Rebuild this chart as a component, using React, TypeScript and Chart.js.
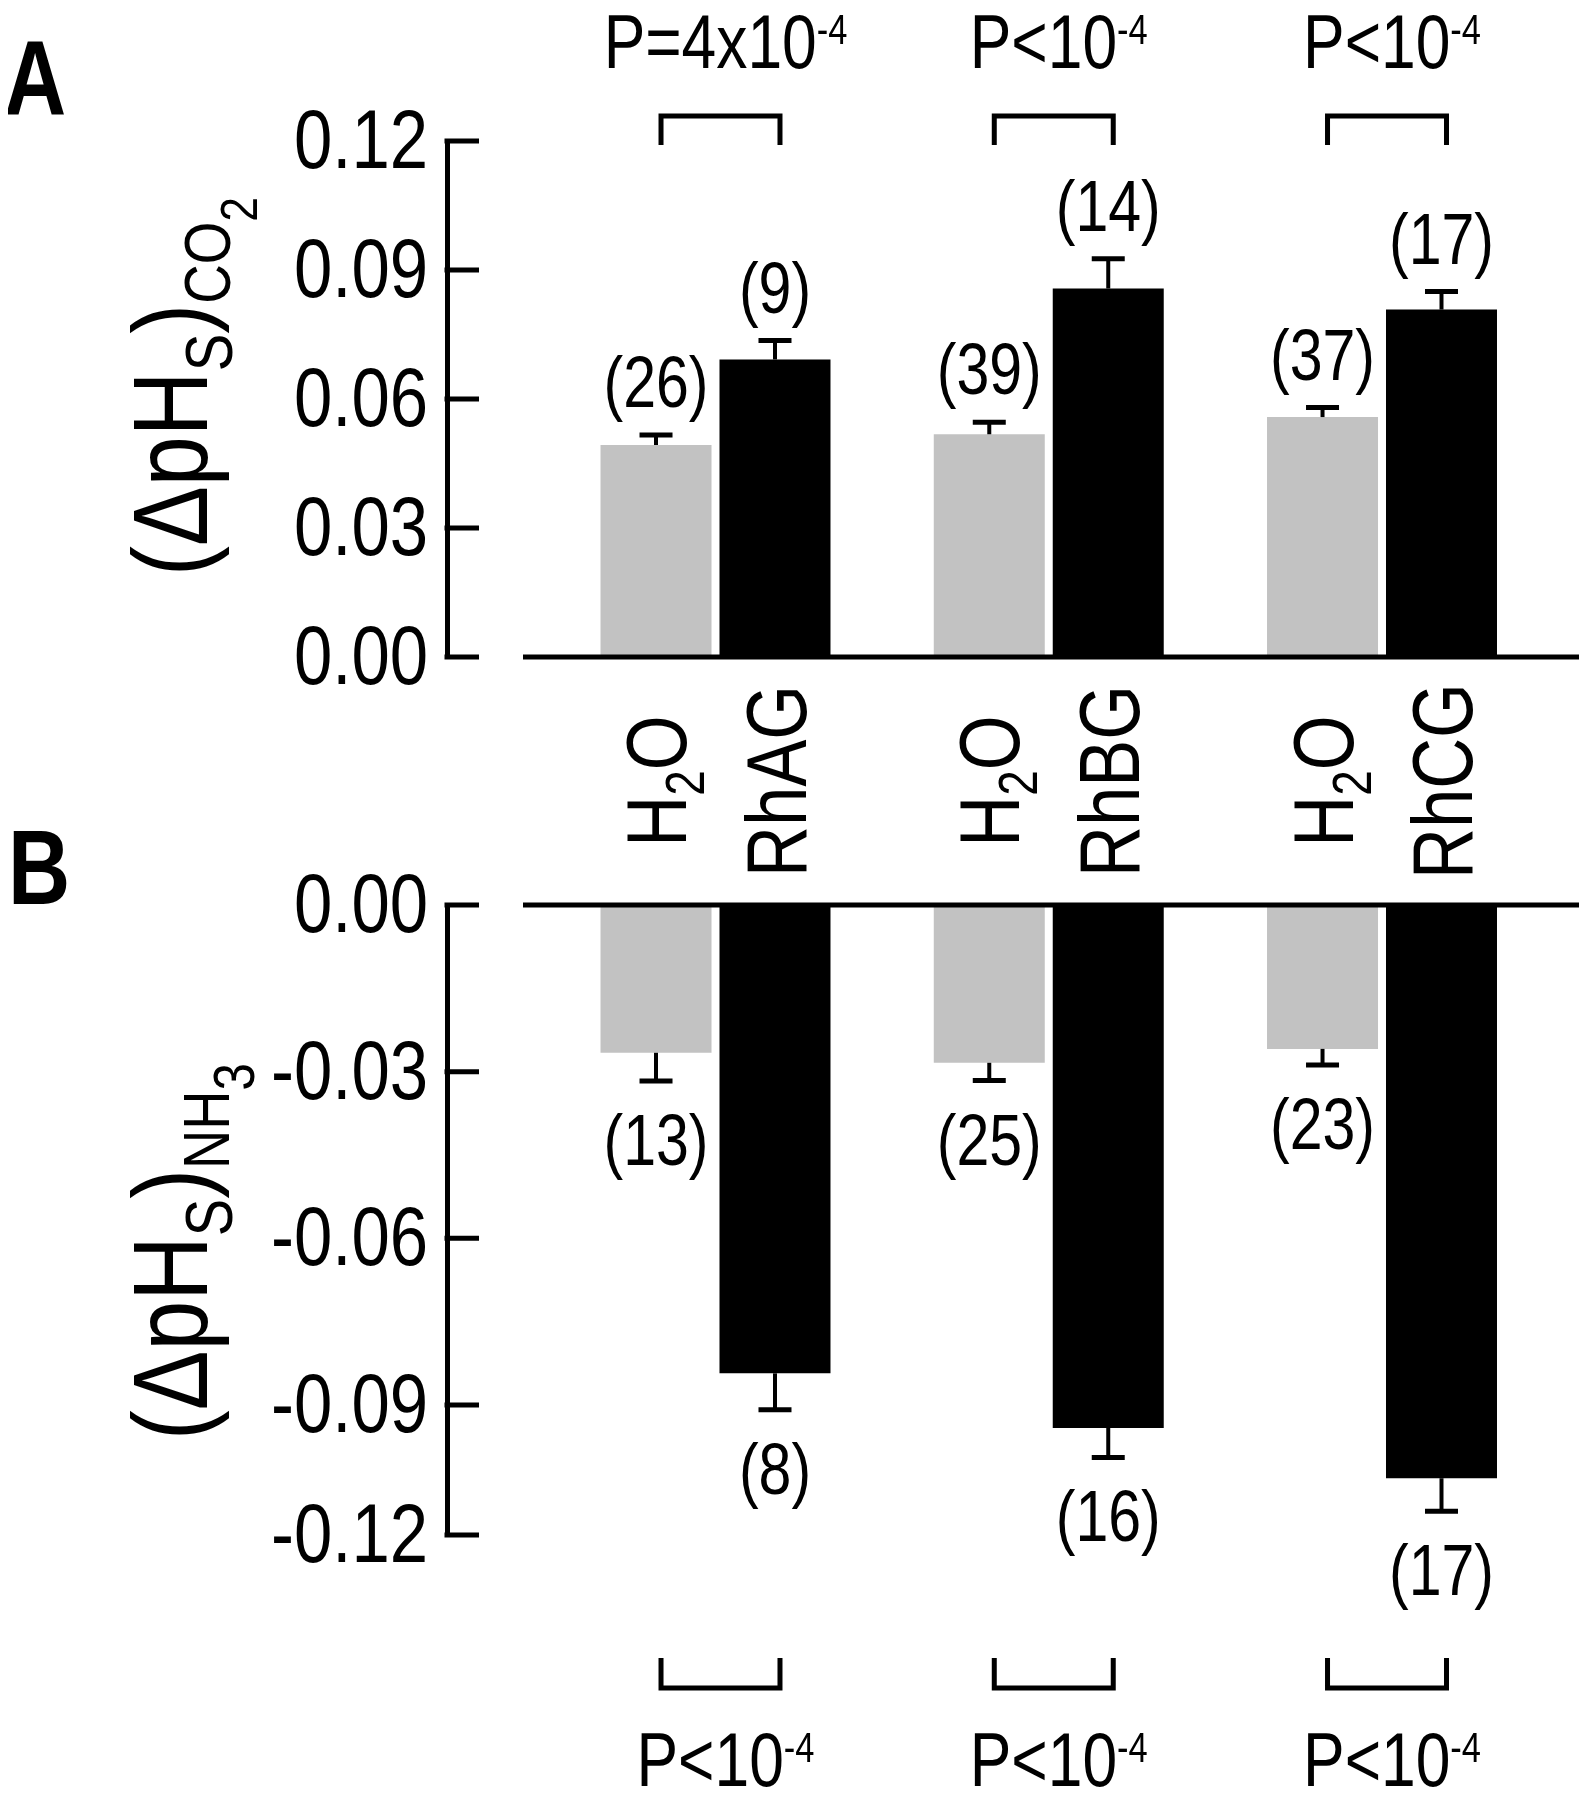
import React, { useEffect, useRef } from 'react';
import { Chart, registerables, LinearScale } from 'chart.js';

// ---------------- data ----------------
const CATEGORIES = ['RhAG', 'RhBG', 'RhCG'];
const CONTROL_LABEL = 'H2O';

const CO2_TICKS = [0, 0.03, 0.06, 0.09, 0.12];
const CO2_H2O = [0.0493, 0.0518, 0.0558];
const CO2_H2O_SEM = [0.0023, 0.0028, 0.0022];
const CO2_H2O_N = [26, 39, 37];
const CO2_RH = [0.0692, 0.0857, 0.0808];
const CO2_RH_SEM = [0.0044, 0.0069, 0.0042];
const CO2_RH_N = [9, 14, 17];
const CO2_P = ['P=4x10', 'P<10', 'P<10'];
const CO2_P_EXP = ['-4', '-4', '-4'];

const NH3_TICKS = [0, -0.03, -0.06, -0.09, -0.12];
const NH3_H2O = [-0.0266, -0.0284, -0.0259];
const NH3_H2O_SEM = [0.0051, 0.0032, 0.0029];
const NH3_H2O_N = [13, 25, 23];
const NH3_RH = [-0.0843, -0.0953, -0.1069];
const NH3_RH_SEM = [0.0068, 0.0068, 0.0076];
const NH3_RH_N = [8, 16, 17];
const NH3_P = ['P<10', 'P<10', 'P<10'];
const NH3_P_EXP = ['-4', '-4', '-4'];

// ---------------- style ----------------
const FONT = '"Liberation Sans", Arial, sans-serif';
const NARROW = 0.82; // horizontal squeeze to imitate a narrow face
const GRAY = '#c2c2c2';
const BLACK = '#000000';
const PAGE_W = 1587;
const PAGE_H = 1800;
const AXIS_X = 447;
const RIGHT_PAD = 7;
const X_MIN = 0.1943;
const X_MAX = 3.5941;
const CAT_PCT = 0.714;
const BAR_PCT = 0.933;
const TICK_FONT = 84;
const N_FONT = 72;
const P_FONT = 76;
const P_EXP_FONT = 42;
const CAT_FONT = 86;
const TICK_LEN = 32;
const CAP_W = 33;
const BASELINE_GAP = 76;
const TITLE_BASE_X = 207;

// the lower axis of the original figure is compressed below -0.09
const NH3_BREAK = -0.09;
const NH3_COMPRESS = 0.78;

class BrokenLinearScale extends LinearScale {
  static id = 'brokenLinear';
  static defaults = {};
  warp(v: number) {
    return v < NH3_BREAK ? NH3_BREAK + (v - NH3_BREAK) * NH3_COMPRESS : v;
  }
  unwarp(w: number) {
    return w < NH3_BREAK ? NH3_BREAK + (w - NH3_BREAK) / NH3_COMPRESS : w;
  }
  configure() {
    super.configure();
    (this as any)._startValue = this.warp((this as any).min);
    (this as any)._endValue = this.warp((this as any).max);
    (this as any)._valueRange = (this as any)._endValue - (this as any)._startValue;
  }
  getPixelForValue(value: any) {
    if (value === null || value === undefined || isNaN(value)) return NaN;
    return super.getPixelForValue(this.warp(value));
  }
  getValueForPixel(pixel: number) {
    return this.unwarp(super.getValueForPixel(pixel) as number);
  }
}

Chart.register(...registerables, BrokenLinearScale as any);

type Seg = { text: string; size: number; dy: number; weight?: string };
const seg = (text: string, size: number, dy = 0, weight?: string): Seg => ({ text, size, dy, weight });

function setFont(ctx: CanvasRenderingContext2D, s: Seg) {
  ctx.font = `${s.weight || 'normal'} ${s.size}px ${FONT}`;
}

function segWidths(ctx: CanvasRenderingContext2D, segs: Seg[]) {
  return segs.map((s) => {
    setFont(ctx, s);
    return ctx.measureText(s.text).width;
  });
}

// draws segments horizontally, squeezed; align: 'left' | 'center' | 'right'
function drawText(
  ctx: CanvasRenderingContext2D,
  segs: Seg[],
  x: number,
  y: number,
  align: 'left' | 'center' | 'right' = 'left',
  baseline: CanvasTextBaseline = 'alphabetic'
) {
  const widths = segWidths(ctx, segs);
  const total = widths.reduce((a, b) => a + b, 0);
  let u = align === 'left' ? 0 : align === 'center' ? -total / 2 : -total;
  ctx.save();
  ctx.translate(x, y);
  ctx.scale(NARROW, 1);
  ctx.textAlign = 'left';
  ctx.textBaseline = baseline;
  segs.forEach((s, i) => {
    setFont(ctx, s);
    ctx.fillText(s.text, u, s.dy);
    u += widths[i];
  });
  ctx.restore();
}

function drawRotated(ctx: CanvasRenderingContext2D, segs: Seg[], baseX: number, centerY: number, length?: number) {
  const widths = segWidths(ctx, segs);
  const total = widths.reduce((a, b) => a + b, 0);
  const sx = length ? length / total : NARROW;
  ctx.save();
  ctx.translate(baseX, centerY + (total * sx) / 2);
  ctx.rotate(-Math.PI / 2);
  ctx.scale(sx, 1);
  ctx.textAlign = 'left';
  ctx.textBaseline = 'alphabetic';
  let u = 0;
  segs.forEach((s, i) => {
    setFont(ctx, s);
    ctx.fillText(s.text, u, s.dy);
    u += widths[i];
  });
  ctx.restore();
}

function controlSegs(): Seg[] {
  // "H2O" with subscript 2
  return [seg(CONTROL_LABEL[0], CAT_FONT), seg(CONTROL_LABEL[1], 56, 18), seg(CONTROL_LABEL[2], CAT_FONT)];
}

type Panel = {
  letter: string;
  letterX: number;
  letterY: number;
  ticks: number[];
  control: number[];
  controlSem: number[];
  controlN: number[];
  rh: number[];
  rhSem: number[];
  rhN: number[];
  pBase: string[];
  pExp: string[];
  areaTop: number;
  areaBottom: number;
  above: boolean;
  yType: string;
  title: Seg[];
  titleCenterY: number;
  titleLength: number;
  showCategories: boolean;
};

const TOP_PANEL: Panel = {
  letter: 'A',
  letterX: 4,
  letterY: 115,
  ticks: CO2_TICKS,
  control: CO2_H2O,
  controlSem: CO2_H2O_SEM,
  controlN: CO2_H2O_N,
  rh: CO2_RH,
  rhSem: CO2_RH_SEM,
  rhN: CO2_RH_N,
  pBase: CO2_P,
  pExp: CO2_P_EXP,
  areaTop: 141,
  areaBottom: 657,
  above: true,
  yType: 'linear',
  title: [seg('(ΔpH', 105), seg('S', 66, 25), seg(')', 105), seg('CO', 64, 23), seg('2', 52, 50)],
  titleCenterY: 386.5,
  titleLength: 379,
  showCategories: true,
};

const BOTTOM_PANEL: Panel = {
  letter: 'B',
  letterX: 8,
  letterY: 904,
  ticks: NH3_TICKS,
  control: NH3_H2O,
  controlSem: NH3_H2O_SEM,
  controlN: NH3_H2O_N,
  rh: NH3_RH,
  rhSem: NH3_RH_SEM,
  rhN: NH3_RH_N,
  pBase: NH3_P,
  pExp: NH3_P_EXP,
  areaTop: 905,
  areaBottom: 1535,
  above: false,
  yType: 'brokenLinear',
  title: [seg('(ΔpH', 105), seg('S', 66, 25), seg(')', 105), seg('NH', 64, 22), seg('3', 58, 47)],
  titleCenterY: 1251.5,
  titleLength: 377,
  showCategories: false,
};

function panelPlugin(p: Panel) {
  return {
    id: 'panelDecor' + p.letter,
    afterDatasetsDraw(chart: any) {
      const ctx: CanvasRenderingContext2D = chart.ctx;
      const area = chart.chartArea;
      const y = chart.scales.y;
      ctx.save();
      ctx.fillStyle = BLACK;
      ctx.strokeStyle = BLACK;
      ctx.lineCap = 'butt';
      const line = (x1: number, y1: number, x2: number, y2: number, w: number) => {
        ctx.lineWidth = w;
        ctx.beginPath();
        ctx.moveTo(x1, y1);
        ctx.lineTo(x2, y2);
        ctx.stroke();
      };

      // zero line
      const y0 = y.getPixelForValue(0);
      line(area.left + BASELINE_GAP, y0, area.right, y0, 5);

      // inward tick marks and squeezed tick labels (taken from the scale)
      y.ticks.forEach((t: any, i: number) => {
        const py = y.getPixelForTick(i);
        line(area.left - 2.5, py, area.left + TICK_LEN, py, 5);
        drawText(ctx, [seg(String(t.label), TICK_FONT)], area.left - 19, py + 4, 'right', 'middle');
      });

      // error bars and n labels
      const series = [
        { vals: p.control, sem: p.controlSem, n: p.controlN },
        { vals: p.rh, sem: p.rhSem, n: p.rhN },
      ];
      series.forEach((s, d) => {
        const meta = chart.getDatasetMeta(d);
        meta.data.forEach((bar: any, i: number) => {
          const v = s.vals[i];
          const dir = v >= 0 ? 1 : -1;
          const pe = y.getPixelForValue(v + dir * s.sem[i]);
          line(bar.x, bar.y, bar.x, pe, 4);
          line(bar.x - CAP_W / 2, pe, bar.x + CAP_W / 2, pe, 5);
          drawText(ctx, [seg(`(${s.n[i]})`, N_FONT)], bar.x, dir > 0 ? pe - 28 : pe + 84, 'center');
        });
      });

      // significance brackets and P values
      const m0 = chart.getDatasetMeta(0);
      const m1 = chart.getDatasetMeta(1);
      CATEGORIES.forEach((_, i) => {
        const x1 = m0.data[i].x + 5;
        const x2 = m1.data[i].x + 5;
        const barY = p.above ? area.top - 25 : area.bottom + 153;
        const legY = p.above ? area.top + 4 : area.bottom + 123;
        ctx.lineWidth = 5;
        ctx.lineJoin = 'miter';
        ctx.beginPath();
        ctx.moveTo(x1, legY);
        ctx.lineTo(x1, barY);
        ctx.lineTo(x2, barY);
        ctx.lineTo(x2, legY);
        ctx.stroke();
        const cx = (m0.data[i].x + m1.data[i].x) / 2 + 10;
        drawText(
          ctx,
          [seg(p.pBase[i], P_FONT), seg(p.pExp[i], P_EXP_FONT, -24)],
          cx,
          p.above ? area.top - 73 : area.bottom + 251,
          'center'
        );
      });

      // category labels between the panels
      if (p.showCategories) {
        const labelCenterY = area.bottom + 124;
        m0.data.forEach((bar: any) => drawRotated(ctx, controlSegs(), bar.x + 30, labelCenterY));
        m1.data.forEach((bar: any, i: number) =>
          drawRotated(ctx, [seg(CATEGORIES[i], CAT_FONT)], bar.x + 31, labelCenterY)
        );
      }

      // y-axis title
      drawRotated(ctx, p.title, TITLE_BASE_X, p.titleCenterY, p.titleLength);

      // panel letter
      drawText(ctx, [seg(p.letter, 105, 0, 'bold')], p.letterX, p.letterY, 'left');
      ctx.restore();
    },
  };
}

function makeConfig(p: Panel): any {
  return {
    type: 'bar',
    data: {
      datasets: [
        {
          label: CONTROL_LABEL,
          data: p.control.map((v, i) => ({ x: i + 1, y: v })),
          backgroundColor: GRAY,
          borderWidth: 0,
          categoryPercentage: CAT_PCT,
          barPercentage: BAR_PCT,
        },
        {
          label: 'Rh',
          data: p.rh.map((v, i) => ({ x: i + 1, y: v })),
          backgroundColor: BLACK,
          borderWidth: 0,
          categoryPercentage: CAT_PCT,
          barPercentage: BAR_PCT,
        },
      ],
    },
    options: {
      responsive: false,
      animation: false,
      devicePixelRatio: 1,
      events: [],
      layout: { padding: { left: 0, right: RIGHT_PAD, top: p.areaTop, bottom: PAGE_H - p.areaBottom } },
      plugins: { legend: { display: false }, tooltip: { enabled: false } },
      scales: {
        x: {
          type: 'linear',
          display: false,
          offset: false,
          min: X_MIN,
          max: X_MAX,
          afterBuildTicks: (s: any) => {
            s.ticks = CATEGORIES.map((_, i) => ({ value: i + 1 }));
          },
        },
        y: {
          type: p.yType,
          min: Math.min(...p.ticks),
          max: Math.max(...p.ticks),
          afterBuildTicks: (s: any) => {
            s.ticks = p.ticks.map((value) => ({ value }));
          },
          afterFit: (s: any) => {
            s.width = AXIS_X;
          },
          grid: { display: false, drawTicks: false },
          border: { display: true, width: 5, color: BLACK },
          ticks: {
            display: false,
            autoSkip: false,
            padding: 19,
            color: BLACK,
            font: { family: FONT, size: TICK_FONT },
            callback: (v: any) => Number(v).toFixed(2),
          },
        },
      },
    },
    plugins: [panelPlugin(p)],
  };
}

export default function App() {
  const topRef = useRef<HTMLCanvasElement>(null);
  const botRef = useRef<HTMLCanvasElement>(null);
  useEffect(() => {
    const c1 = new Chart(topRef.current as HTMLCanvasElement, makeConfig(TOP_PANEL));
    const c2 = new Chart(botRef.current as HTMLCanvasElement, makeConfig(BOTTOM_PANEL));
    return () => {
      c1.destroy();
      c2.destroy();
    };
  }, []);
  const canvasStyle: React.CSSProperties = {
    position: 'absolute',
    left: -8,
    top: -8,
    width: PAGE_W,
    height: PAGE_H,
  };
  return (
    <div style={{ position: 'relative', width: PAGE_W - 16, height: PAGE_H - 16 }}>
      <canvas ref={topRef} width={PAGE_W} height={PAGE_H} style={canvasStyle} />
      <canvas ref={botRef} width={PAGE_W} height={PAGE_H} style={canvasStyle} />
    </div>
  );
}
